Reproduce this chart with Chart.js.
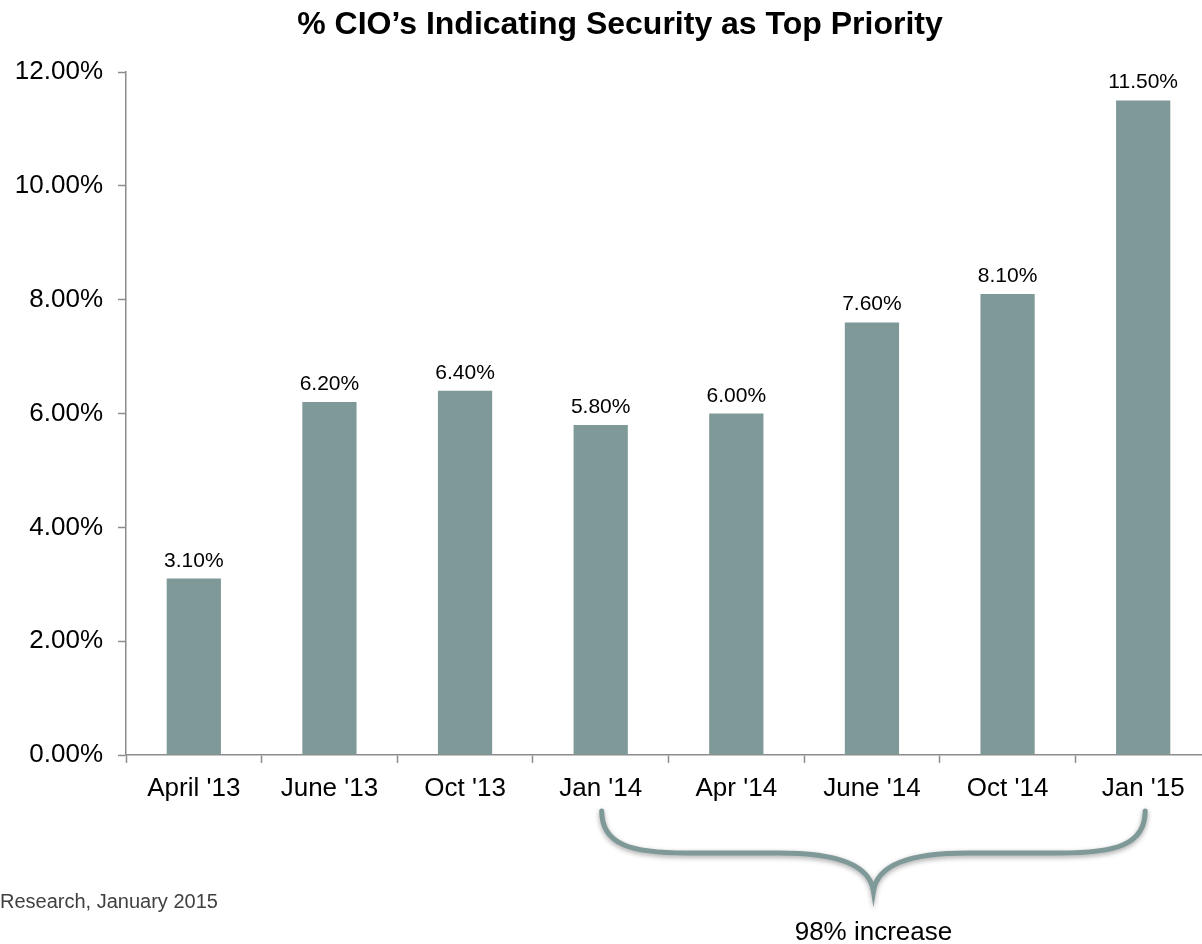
<!DOCTYPE html>
<html lang="en">
<head>
  <meta charset="UTF-8" />
  <title>% CIO's Indicating Security as Top Priority</title>
  <script src="https://cdn.jsdelivr.net/npm/chart.js"></script>
  <style>
    html, body {
      margin: 0;
      padding: 0;
      background: #fff;
      overflow: hidden;
    }
    .chart-box {
      position: relative;
      width: 1212px;
      height: 944px;
    }
  </style>
</head>
<body>

  <div class="chart-box">
    <canvas id="cioChart"></canvas>
  </div>

  <script>
    const periods = ["April '13", "June '13", "Oct '13", "Jan '14", "Apr '14", "June '14", "Oct '14", "Jan '15"];
    const securityShare = [3.1, 6.2, 6.4, 5.8, 6.0, 7.6, 8.1, 11.5];
    const yTicks = [0, 2, 4, 6, 8, 10, 12];

    const barColor = '#7f9898';
    const axisColor = '#8c8c8c';
    const fontFamily = "'Liberation Sans', Arial, sans-serif";

    // heading, centred on the visible page width
    const heading = {
      id: 'heading',
      afterDraw(chart) {
        const ctx = chart.ctx;
        ctx.save();
        ctx.font = `bold 32px ${fontFamily}`;
        ctx.fillStyle = '#000';
        ctx.textAlign = 'center';
        ctx.textBaseline = 'middle';
        ctx.fillText('% CIO\u2019s Indicating Security as Top Priority', 620, 25);
        ctx.restore();
      }
    };

    // value labels above each bar
    const valueLabels = {
      id: 'valueLabels',
      afterDatasetsDraw(chart) {
        const ctx = chart.ctx;
        const meta = chart.getDatasetMeta(0);
        ctx.save();
        ctx.font = `21px ${fontFamily}`;
        ctx.fillStyle = '#000';
        ctx.textAlign = 'center';
        ctx.textBaseline = 'alphabetic';
        meta.data.forEach((bar, i) => {
          ctx.fillText(securityShare[i].toFixed(2) + '%', bar.x, bar.y - 12);
        });
        ctx.restore();
      }
    };

    // brace under Jan '14 .. Jan '15 plus the notes below the axis
    const braceNote = {
      id: 'braceNote',
      afterDraw(chart) {
        const ctx = chart.ctx;
        const x = chart.scales.x;
        const L = x.getPixelForValue(3) + 1;
        const R = x.getPixelForValue(7) + 2;
        const M = (L + R) / 2;
        const base = chart.chartArea.bottom;
        const yTop = base + 56, yMid = base + 98, yTip = base + 136;

        ctx.save();
        ctx.strokeStyle = barColor;
        ctx.lineWidth = 5;
        ctx.lineCap = 'round';
        ctx.shadowColor = 'rgba(0,0,0,0.35)';
        ctx.shadowBlur = 5;
        ctx.shadowOffsetY = 2;
        ctx.beginPath();
        ctx.moveTo(L, yTop);
        ctx.bezierCurveTo(L, yMid - 8, L + 30, yMid, L + 85, yMid);
        ctx.lineTo(M - 95, yMid);
        ctx.bezierCurveTo(M - 35, yMid, M - 4, yMid + 12, M, yTip);
        ctx.bezierCurveTo(M + 4, yMid + 12, M + 35, yMid, M + 95, yMid);
        ctx.lineTo(R - 85, yMid);
        ctx.bezierCurveTo(R - 30, yMid, R, yMid - 8, R, yTop);
        ctx.stroke();
        ctx.restore();

        ctx.save();
        ctx.font = `26px ${fontFamily}`;
        ctx.fillStyle = '#000';
        ctx.textAlign = 'center';
        ctx.textBaseline = 'middle';
        ctx.fillText('98% increase', M, 933);
        ctx.font = `20px ${fontFamily}`;
        ctx.fillStyle = '#404040';
        ctx.textAlign = 'left';
        ctx.fillText('Research, January 2015', 0, 902);
        ctx.restore();
      }
    };

    new Chart(document.getElementById('cioChart'), {
      type: 'bar',
      data: {
        labels: periods,
        datasets: [{
          data: securityShare,
          backgroundColor: barColor,
          borderWidth: 0,
          barPercentage: 0.4,
          categoryPercentage: 1.0
        }]
      },
      options: {
        responsive: true,
        maintainAspectRatio: false,
        animation: false,
        layout: { padding: { left: 0, right: 1, top: 72, bottom: 0 } },
        plugins: {
          legend: { display: false },
          tooltip: { enabled: false },
          title: { display: false }
        },
        scales: {
          x: {
            offset: true,
            border: { color: axisColor, width: 1.5 },
            grid: { display: true, drawOnChartArea: false, offset: true, tickLength: 8, color: axisColor, tickWidth: 1.5 },
            ticks: { color: '#000', font: { family: fontFamily, size: 26 }, padding: 10, maxRotation: 0, autoSkip: false },
            afterFit(scale) { scale.height = 189; }
          },
          y: {
            min: 0,
            max: 12,
            afterBuildTicks(scale) { scale.ticks = yTicks.map(v => ({ value: v })); },
            border: { color: axisColor, width: 1.5 },
            grid: { display: true, drawOnChartArea: false, tickLength: 8, color: axisColor, tickWidth: 1.5 },
            ticks: {
              color: '#000',
              font: { family: fontFamily, size: 26 },
              padding: 15,
              callback: v => v.toFixed(2) + '%'
            },
            afterFit(scale) { scale.width = 126; }
          }
        }
      },
      plugins: [heading, valueLabels, braceNote]
    });
  </script>

</body>
</html>
